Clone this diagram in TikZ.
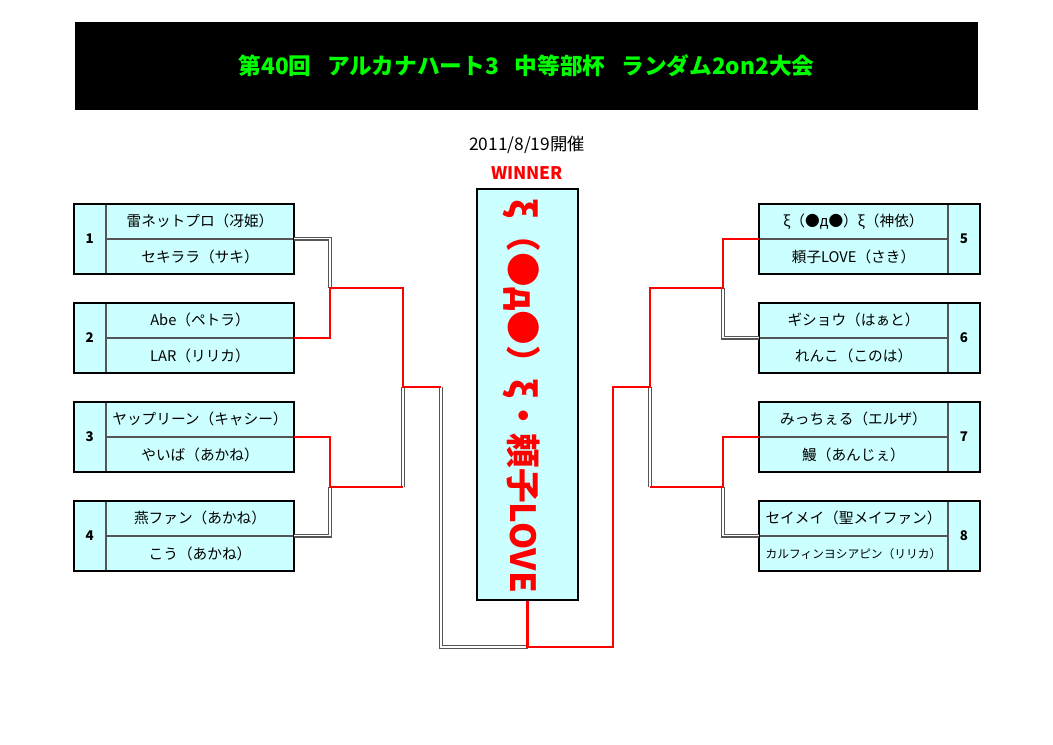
\documentclass[tikz,border=0pt]{standalone}
\usepackage{fontspec}
\setmainfont{Noto Sans CJK JP}
\usetikzlibrary{positioning, fit}
\definecolor{cell}{HTML}{CCFFFF}
\definecolor{lime}{HTML}{00FF00}
\definecolor{winred}{HTML}{FF0000}
\definecolor{losegrey}{HTML}{555555}
\tikzset{
  every picture/.style={x=0.75pt, y=-0.75pt},
  namecell/.style={draw=losegrey, fill=cell, line width=0.6pt, minimum width=141pt, minimum height=25.875pt,
                   inner sep=0pt, font=\fontsize{11}{13}\selectfont},
  numcell/.style={draw=losegrey, fill=cell, line width=0.6pt, minimum width=23.25pt, minimum height=51.75pt,
                  inner sep=0pt, font=\bfseries\fontsize{10}{12}\selectfont},
  frame/.style={draw=black, line width=1.5pt, inner sep=0pt},
  win/.style={draw=winred, line width=2pt},
  lose/.style={draw=losegrey, double=white, double distance=0.8pt, line width=0.8pt},
}

\begin{document}
\begin{tikzpicture}
  \useasboundingbox (0,0) rectangle (1053,744);
  \node[fill=black, minimum width=677.25pt, minimum height=66pt, text=lime, font=\bfseries\fontsize{17}{20}\selectfont]
    (title) at (526.5,66) {第40回\hspace{0.7em}アルカナハート3\hspace{0.7em}中等部杯\hspace{0.7em}ランダム2on2大会};
  \node[font=\fontsize{13}{15}\selectfont] (date) at (527,145) {2011/8/19開催};
  \node[text=winred, font=\bfseries\fontsize{13}{15}\selectfont] (winner) at (527,173) {WINNER};
  % champion
  \node[frame, fill=cell, minimum width=75.75pt, minimum height=308.25pt] (champ) at (527.5,394.5) {};
  \node[rotate=-90, text=winred, font=\bfseries\fontsize{26}{30}\selectfont] (champname) at (522,396) {ξ（●д●）ξ・頼子LOVE};
  % left half
  \foreach \n/\y/\top/\bot in {1/221.25/雷ネットプロ（冴姫）/セキララ（サキ）,
                               2/320.25/Abe（ペトラ）/LAR（リリカ）,
                               3/419.25/ヤップリーン（キャシー）/やいば（あかね）,
                               4/518.25/燕ファン（あかね）/こう（あかね）} {
    \node[namecell] (a\n) at (200,\y) {\top};
    \node[namecell, below=0pt of a\n] (b\n) {\bot};
    \node[numcell, anchor=north east] (n\n) at (a\n.north west) {\n};
    \node[frame, fit=(n\n)(b\n)] (t\n) {};
  }
  % right half
  \foreach \n/\y/\top/\bot in {5/221.25/ξ（●д●）ξ（神依）/頼子LOVE（さき）,
                               6/320.25/ギショウ（はぁと）/れんこ（このは）,
                               7/419.25/みっちぇる（エルザ）/鰻（あんじぇ）,
                               8/518.25/セイメイ（聖メイファン）/{\fontsize{8.8}{10}\selectfont カルフィンヨシアピン（リリカ）}} {
    \node[namecell] (a\n) at (853.5,\y) {\top};
    \node[namecell, below=0pt of a\n] (b\n) {\bot};
    \node[numcell, anchor=north west] (n\n) at (a\n.north east) {\n};
    \node[frame, fit=(n\n)(b\n)] (t\n) {};
  }
  % bracket joints
  \coordinate (j12) at (330,288);
  \coordinate (j34) at (330,487);
  \coordinate (k34) at (403,487);
  \coordinate (s1) at (403,387);
  \coordinate (f1) at (441,387);
  \coordinate (fb) at (527.5,647);
  \coordinate (f2) at (613,387);
  \coordinate (s2) at (650,387);
  \coordinate (j56) at (723,288);
  \coordinate (j78) at (723,487);
  \coordinate (k78) at (650,487);
  % losing lines
  \draw[lose] (a1.south east) -| (j12);
  \draw[lose] (a4.south east) -| (j34);
  \draw[lose] (a6.south west) -| (j56);
  \draw[lose] (a8.south west) -| (j78);
  \foreach \a/\b in {k34/s1, k78/s2} \draw[lose] (\a) -- (\b);
  \draw[lose] (f1) |- (fb);
  % winning lines
  \draw[win] (a2.south east) -| (j12) -| (s1) -- (f1);
  \draw[win] (a3.south east) -| (j34) -- (k34);
  \draw[win] (a7.south west) -| (j78) -- (k78);
  \draw[win] (champ.south) -- (fb) -| (f2) -- (s2) |- (j56) |- (a5.south west);
\end{tikzpicture}
\end{document}
